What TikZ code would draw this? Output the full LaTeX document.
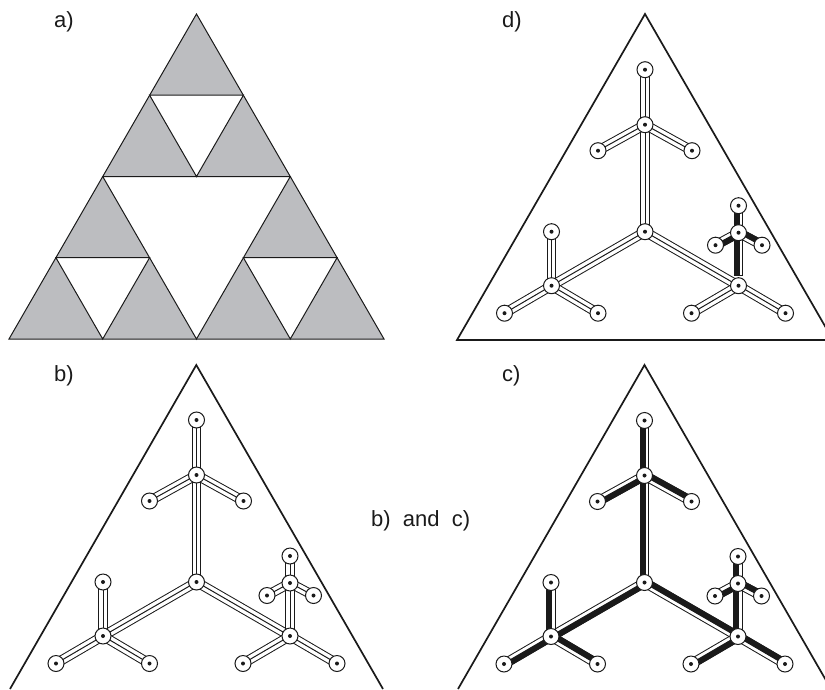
\documentclass[tikz,border=0pt]{standalone}
\usepackage{fontspec}
\setmainfont{Liberation Sans}
\usetikzlibrary{backgrounds,calc}
\definecolor{gasketgray}{HTML}{BCBDC0}
\definecolor{gasketink}{HTML}{1A1A1A}

\tikzset{
  panellabel/.style={font=\fontsize{22}{26}\selectfont, color=gasketink, anchor=west, inner sep=0pt},
  outline/.style={draw=gasketink, line width=1.7pt, line join=miter},
  hole/.style={draw=gasketink, fill=white, line width=1pt, line join=miter},
  site/.style={circle, draw=gasketink, fill=white, line width=1pt, minimum size=16pt, inner sep=0pt,
    path picture={\fill[gasketink] (path picture bounding box.center) circle (2pt);}},
  rail/.style={draw=gasketink, line width=1pt, double=white, double distance=7.8pt},
  railmid/.style={draw=gasketink, line width=1pt},
  railband/.style={draw=gasketink, line width=6pt}
}

% all sites of one tree, around the current origin
\newcommand{\placesites}[1]{%
  \foreach \name/\x/\y in {o/0/0, t/0/-107, tt/0/-162, tl/-47/-81, tr/47/-81,
      l/-93.5/54, lt/-93.5/0, ll/-140.5/81.5, lr/-47/81.5,
      r/93.5/54, rl/46.5/81.5, rr/140.5/81.5,
      s/93.5/1, st/93.5/-26, sl/70.5/13.5, sr/117/13.5}
    {\node[site] (#1\name) at (\x,\y) {};}
}
\newcommand{\railedge}[2]{%
  \draw[rail] (#1.center) -- (#2.center);
  \draw[railmid] (#1.center) -- (#2.center);
}
\newcommand{\bandedge}[2]{%
  \draw[railband] ($(#1.center)!2pt!90:(#2.center)$) -- ($(#2.center)!2pt!-90:(#1.center)$);
}

\begin{document}
\begin{tikzpicture}[x=1pt,y=-1pt]
  \useasboundingbox (0,0) rectangle (825,689);
  \clip (0,0) rectangle (825,689);

  \node[panellabel] (labela) at (54,22) {a)};
  \node[panellabel] (labeld) at (502,22) {d)};
  \node[panellabel] (labelb) at (54,376) {b)};
  \node[panellabel] (labelc) at (502,376) {c)};
  \node[panellabel] (labelbc) at (371,521) {b)\ \ and\ \ c)};

  % panel a
  \filldraw[fill=gasketgray, draw=gasketink, line width=1pt] (196.5,14) -- (9,339) -- (384,339) -- cycle;
  \filldraw[hole] (102.7,176.5) -- (290.3,176.5) -- (196.5,339) -- cycle;
  \filldraw[hole] (149.6,95.2) -- (243.4,95.2) -- (196.5,176.5) -- cycle;
  \filldraw[hole] (55.9,257.7) -- (149.6,257.7) -- (102.7,339) -- cycle;
  \filldraw[hole] (243.4,257.7) -- (337.1,257.7) -- (290.3,339) -- cycle;

  % outer triangles
  \draw[outline] (645,14) -- (457,340) -- (833,340) -- cycle;
  \draw[outline] (10,689) -- (196.3,365) -- (383,689);
  \draw[outline] (458,689) -- (644.5,365) -- (831,689);

  % sites
  \begin{scope}[shift={(645,231.7)}]
    \placesites{d}
  \end{scope}
  \begin{scope}[shift={(196.5,582)}]
    \placesites{b}
  \end{scope}
  \begin{scope}[shift={(644.5,582.5)}]
    \placesites{c}
  \end{scope}
  \coordinate (dstub) at (738.5,275);

  % connectors
  \begin{scope}[on background layer]
    \foreach \u/\v in {o/t,t/tt,t/tl,t/tr,o/l,l/lt,l/ll,l/lr,o/r,r/rl,r/rr,s/st,s/sl,s/sr} {
      \railedge{d\u}{d\v}
      \railedge{b\u}{b\v}
      \railedge{c\u}{c\v}
    }
    \railedge{br}{bs}
    \railedge{cr}{cs}
    \railedge{dstub}{ds}
    \draw[railmid] ($(dstub)+(-4.9,0)$) -- ($(dstub)+(4.9,0)$);
    \foreach \u/\v in {o/t,t/tt,t/tl,t/tr,o/l,l/lt,l/ll,l/lr,o/r,r/rl,r/rr,r/s,s/st,s/sl,s/sr} {
      \bandedge{c\u}{c\v}
    }
    \foreach \u/\v in {s/st,s/sl,s/sr} {
      \bandedge{d\u}{d\v}
    }
    \bandedge{dstub}{ds}
  \end{scope}
\end{tikzpicture}
\end{document}
